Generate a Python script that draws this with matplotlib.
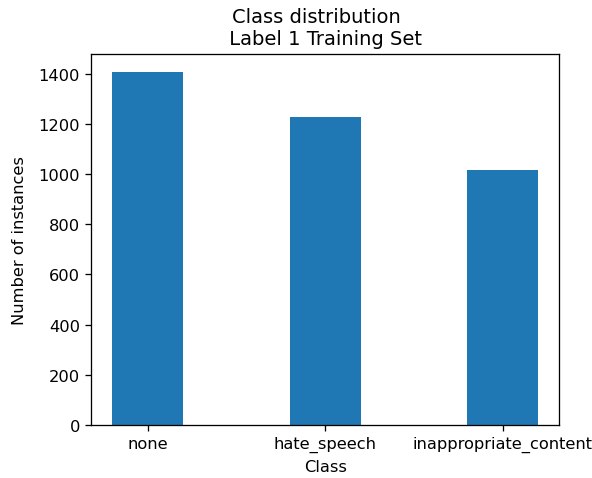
import matplotlib
matplotlib.use("Agg")
import matplotlib.pyplot as plt

classes = ["none", "hate_speech", "inappropriate_content"]
counts = [1408, 1226, 1017]

dpi = 117
fig = plt.figure(figsize=(592 / dpi, 479 / dpi), dpi=dpi)
ax = fig.add_subplot(111)
ax.bar(classes, counts, width=0.4)
ax.set_xlabel("Class")
ax.set_ylabel("Number of instances", labelpad=7)
ax.set_title("Class distribution   \n Label 1 Training Set ")
fig.subplots_adjust(left=0.154, right=0.945, top=0.885, bottom=0.111)
fig.savefig("out.png", dpi=dpi)
